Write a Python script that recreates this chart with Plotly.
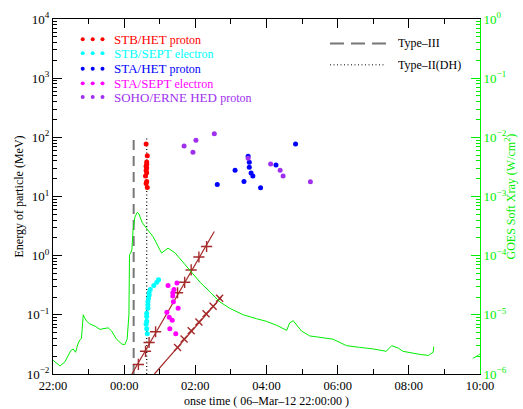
import plotly.graph_objects as go

# ---------------- data ----------------
# GOES soft X-ray flux (W/cm^2), times HH:MM starting 06-Mar-12 22:00
goes_time = ["22:00", "22:12", "22:20", "22:26", "22:30", "22:34", "22:38", "22:42", "22:45", "22:48",
             "22:51", "22:53", "22:57", "23:02", "23:11", "23:19", "23:28", "23:33", "23:39", "23:47",
             "23:56", "00:01", "00:05", "00:08", "00:09", "00:11", "00:13", "00:15", "00:18", "00:22",
             "00:25", "00:30", "00:38", "00:49", "01:03", "01:14", "01:26", "01:40", "01:51", "02:08",
             "02:25", "02:41", "02:58", "03:21", "03:43", "04:00", "04:17", "04:34", "04:39", "04:45",
             "04:59", "05:13", "05:52", "06:15", "06:37", "07:00", "07:22", "07:31", "07:42", "07:50",
             "08:19", "08:33", "08:41", "08:42", None, "09:48", "09:57", "10:00"]
goes_flux = [1.70e-6, 1.37e-6, 1.60e-6, 2.06e-6, 2.49e-6, 2.65e-6, 2.33e-6, 3.21e-6, 3.73e-6, 4.03e-6,
             1.00e-5, 9.04e-6, 7.76e-6, 7.02e-6, 6.43e-6, 5.68e-6, 5.89e-6, 6.03e-6, 5.32e-6, 3.88e-6,
             3.21e-6, 3.13e-6, 3.88e-6, 1.00e-5, 1.04e-4, 1.11e-4, 1.26e-4, 2.68e-4, 4.46e-4, 5.40e-4,
             5.05e-4, 3.69e-4, 2.86e-4, 2.08e-4, 1.11e-4, 1.34e-4, 1.11e-4, 7.57e-5, 5.53e-5, 3.55e-5,
             2.43e-5, 1.66e-5, 1.29e-5, 1.00e-5, 8.61e-6, 7.76e-6, 6.67e-6, 5.46e-6, 7.28e-6, 7.98e-6,
             5.32e-6, 4.40e-6, 3.88e-6, 3.01e-6, 2.82e-6, 2.65e-6, 2.42e-6, 3.01e-6, 2.75e-6, 2.42e-6,
             2.14e-6, 2.06e-6, 2.33e-6, 2.90e-6, None, 1.84e-6, 2.06e-6, 2.22e-6]

# Onset times vs energy (MeV)
stb_het_time = ["00:37", "00:39", "00:38", "00:38", "00:37", "00:38", "00:37", "00:38", "00:36", "00:38", "00:37", "00:39"]
stb_het_energy = [76.8, 48.7, 38.2, 35.0, 32.4, 30.4, 27.5, 25.2, 22.2, 17.9, 16.6, 14.2]

stb_sept_time = ["00:58", "00:55", "00:50", "00:44", "00:42", "00:42", "00:41", "00:40", "00:40", "00:40",
                 "00:38", "00:38", "00:38", "00:37", "00:38", "00:39"]
stb_sept_energy = [0.393, 0.355, 0.313, 0.269, 0.236, 0.214, 0.188, 0.166, 0.147, 0.129,
                   0.106, 0.094, 0.078, 0.069, 0.058, 0.048]

sta_het_time = ["04:49", "03:29", "03:31", "04:16", "03:31", "03:07", "03:34", "03:37", "03:22", "02:37", "03:50"]
sta_het_energy = [76.8, 48.0, 37.8, 34.1, 31.3, 27.9, 24.9, 22.2, 17.9, 16.0, 14.1]

sta_sept_time = ["01:29", "01:14", "01:24", "01:22", "01:22", "01:23", "01:31", "01:12", "01:16", "01:21", "01:17", "01:27"]
sta_sept_energy = [0.345, 0.313, 0.269, 0.236, 0.208, 0.166, 0.129, 0.111, 0.0914, 0.0807, 0.058, 0.048]

erne_time = ["02:32", "02:01", "01:41", "01:56", "03:29", "04:07", "04:23", "04:28", "05:14"]
erne_energy = [115, 89.4, 71.2, 55.8, 44.5, 35.4, 27.9, 22.2, 17.7]

# Velocity-dispersion fits
fit1_line_time = ["00:13", "02:32"]
fit1_line_energy = [0.01, 2.56]
fit1_pts_time = ["00:24", "00:36", "00:42", "00:53", "01:30", "01:42", "01:53", "02:06", "02:19"]
fit1_pts_energy = [0.0145, 0.0242, 0.0341, 0.0518, 0.236, 0.355, 0.574, 0.95, 1.43]

fit2_line_time = ["00:51", "02:44"]
fit2_line_energy = [0.01, 0.2]
fit2_pts_time = ["01:30", "01:41", "01:53", "02:06", "02:18", "02:30", "02:41"]
fit2_pts_energy = [0.028, 0.039, 0.054, 0.076, 0.104, 0.14, 0.19]

type3_time = "00:16"
type2_time = "00:38"
burst_energy_range = [0.01, 100]

x_tick_labels = ["22:00", "00:00", "02:00", "04:00", "06:00", "08:00", "10:00"]
left_tick_exp = [-2, -1, 0, 1, 2, 3, 4]
right_tick_exp = [-6, -5, -4, -3, -2, -1, 0]

# ---------------- helpers ----------------
def hrs(t):
    if t is None:
        return None
    hh, mm = t.split(":")
    h = int(hh) + int(mm) / 60.0
    return h - 22 if h >= 12 else h + 2

def H(lst):
    return [hrs(t) for t in lst]

W, HGT = 523, 409
L, R, T, B = 53, 480, 10, 374
def px(x):
    return (x - L) / (R - L)
def py(y):
    return (B - y) / (B - T)

FONT = "Liberation Serif"
GREEN = "#00ee00"
RED = "#ff0000"
CYAN = "#00ffff"
BLUE = "#0000ff"
MAG = "#ff00ff"
PURP = "#a030f0"
BROWN = "#a52a2a"

fig = go.Figure()

# GOES curve on secondary axis
fig.add_trace(go.Scatter(x=H(goes_time), y=goes_flux, mode="lines", yaxis="y2",
                         line=dict(color=GREEN, width=1), connectgaps=False, showlegend=False))

# radio burst lines
fig.add_trace(go.Scatter(x=[hrs(type3_time)] * 2, y=burst_energy_range, mode="lines",
                         line=dict(color="#777777", width=2, dash="10px,6px"), showlegend=False))
fig.add_trace(go.Scatter(x=[hrs(type2_time)] * 2, y=burst_energy_range, mode="lines",
                         line=dict(color="black", width=1.2, dash="1px,2.5px"), showlegend=False))

# fits
fig.add_trace(go.Scatter(x=H(fit1_line_time), y=fit1_line_energy, mode="lines",
                         line=dict(color=BROWN, width=1.2), showlegend=False))
fig.add_trace(go.Scatter(x=H(fit1_pts_time), y=fit1_pts_energy, mode="markers",
                         marker=dict(symbol="cross-thin", size=8, line=dict(color=BROWN, width=1.4)),
                         showlegend=False))
fig.add_trace(go.Scatter(x=H(fit2_line_time), y=fit2_line_energy, mode="lines",
                         line=dict(color=BROWN, width=1.2), showlegend=False))
fig.add_trace(go.Scatter(x=H(fit2_pts_time), y=fit2_pts_energy, mode="markers",
                         marker=dict(symbol="x-thin", size=7, line=dict(color=BROWN, width=1.4)),
                         showlegend=False))

# particle onsets
for tt, ee, col in [(stb_het_time, stb_het_energy, RED),
                    (stb_sept_time, stb_sept_energy, CYAN),
                    (sta_het_time, sta_het_energy, BLUE),
                    (sta_sept_time, sta_sept_energy, MAG),
                    (erne_time, erne_energy, PURP)]:
    fig.add_trace(go.Scatter(x=H(tt), y=ee, mode="markers",
                             marker=dict(color=col, size=5, line=dict(width=0)), showlegend=False))

# ---------------- legend (manual) ----------------
shapes = []
annotations = []
legend_rows = [("STB/HET", "proton", RED, 30.7),
               ("STB/SEPT", "electron", CYAN, 45),
               ("STA/HET", "proton", BLUE, 61),
               ("STA/SEPT", "electron", MAG, 76),
               ("SOHO/ERNE HED", "proton", PURP, 90)]
for main, sub, col, yy in legend_rows:
    for xx in (82.7, 92.7, 102.5):
        shapes.append(dict(type="circle", xref="paper", yref="paper",
                           x0=px(xx - 2), x1=px(xx + 2), y0=py(yy + 2), y1=py(yy - 2),
                           fillcolor=col, line=dict(width=0)))
    annotations.append(dict(xref="paper", yref="paper", x=px(112), y=py(yy),
                            xanchor="left", yanchor="middle", showarrow=False,
                            text=main + " <span style='font-size:12px'>" + sub + "</span>",
                            font=dict(family=FONT, size=13, color=col)))

shapes.append(dict(type="line", xref="paper", yref="paper", x0=px(330), x1=px(388),
                   y0=py(35), y1=py(35), line=dict(color="#777777", width=2, dash="14px,7px")))
shapes.append(dict(type="line", xref="paper", yref="paper", x0=px(330), x1=px(384),
                   y0=py(57), y1=py(57), line=dict(color="black", width=1, dash="1px,2.5px")))
annotations.append(dict(xref="paper", yref="paper", x=px(396), y=py(35), xanchor="left", yanchor="middle",
                        showarrow=False, text="Type–III", font=dict(family=FONT, size=12, color="black")))
annotations.append(dict(xref="paper", yref="paper", x=px(396), y=py(57), xanchor="left", yanchor="middle",
                        showarrow=False, text="Type–II(DH)", font=dict(family=FONT, size=12, color="black")))

# axis titles
annotations.append(dict(xref="paper", yref="paper", x=px(266.5), y=py(402), xanchor="center", yanchor="middle",
                        showarrow=False, text="onse time ( 06–Mar–12 22:00:00 )",
                        font=dict(family=FONT, size=12, color="black")))
annotations.append(dict(xref="paper", yref="paper", x=px(18), y=py(192), xanchor="center", yanchor="middle",
                        showarrow=False, textangle=-90, text="Energy of particle (MeV)",
                        font=dict(family=FONT, size=12, color="black")))
annotations.append(dict(xref="paper", yref="paper", x=px(510), y=py(192), xanchor="center", yanchor="middle",
                        showarrow=False, textangle=-90, text="GOES Soft Xray (W/cm<sup>2</sup>)",
                        font=dict(family=FONT, size=12, color=GREEN)))

def exp_label(p):
    return "10<sup>" + ("−" if p < 0 else "") + str(abs(p)) + "</sup>"

def minor_vals(lo, hi):
    vals = []
    for p in range(lo, hi):
        for m in range(2, 10):
            vals.append(m * 10.0 ** p)
    return vals

fig.update_layout(
    width=W, height=HGT,
    margin=dict(l=L, r=W - R, t=T, b=HGT - B, pad=0),
    paper_bgcolor="white", plot_bgcolor="white",
    font=dict(family=FONT, size=13, color="black"),
    shapes=shapes, annotations=annotations,
    xaxis=dict(range=[0, 12], tickmode="array", tickvals=[0, 2, 4, 6, 8, 10, 12], ticktext=x_tick_labels,
               ticks="inside", ticklen=9, tickcolor="black", tickwidth=1,
               showline=True, linecolor="black", linewidth=1, mirror="ticks",
               showgrid=False, zeroline=False,
               minor=dict(tickmode="linear", tick0=0, dtick=1, ticks="inside", ticklen=5,
                          tickcolor="black", showgrid=False),
               tickfont=dict(family=FONT, size=12.5, color="black")),
    yaxis=dict(type="log", range=[-2, 4], tickmode="array",
               tickvals=[10.0 ** p for p in left_tick_exp], ticktext=[exp_label(p) for p in left_tick_exp],
               ticks="inside", ticklen=9, tickcolor="black",
               showline=True, linecolor="black", linewidth=1, mirror=False,
               showgrid=False, zeroline=False,
               minor=dict(tickmode="array", tickvals=minor_vals(-2, 4), ticks="inside", ticklen=4,
                          tickcolor="black", showgrid=False),
               tickfont=dict(family=FONT, size=13, color="black")),
    yaxis2=dict(type="log", range=[-6, 0], overlaying="y", side="right", anchor="x",
                tickmode="array",
                tickvals=[10.0 ** p for p in right_tick_exp], ticktext=[exp_label(p) for p in right_tick_exp],
                ticks="inside", ticklen=9, tickcolor=GREEN,
                showline=True, linecolor=GREEN, linewidth=1,
                showgrid=False, zeroline=False,
                minor=dict(tickmode="array", tickvals=minor_vals(-6, 0), ticks="inside", ticklen=4,
                           tickcolor=GREEN, showgrid=False),
                tickfont=dict(family=FONT, size=13, color=GREEN)),
)

fig.write_html("out.html")
